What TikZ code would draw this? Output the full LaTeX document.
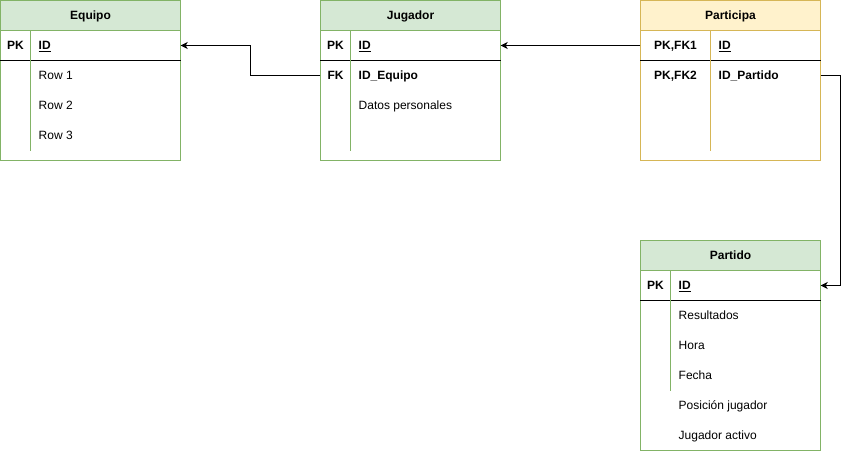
\documentclass[tikz,border=0pt]{standalone}
\usepackage{fontspec}
\setmainfont{Liberation Sans}
\usetikzlibrary{arrows.meta}
\definecolor{greenfill}{HTML}{D5E8D4}
\definecolor{greenline}{HTML}{82B366}
\definecolor{yellowfill}{HTML}{FFF2CC}
\definecolor{yellowline}{HTML}{D6B656}

\tikzset{
  greenbox/.style={draw=greenline, line width=1pt, minimum width=180pt, inner sep=0pt},
  yellowbox/.style={draw=yellowline, line width=1pt, minimum width=180pt, inner sep=0pt},
  yellowhead/.style={yellowbox, fill=yellowfill, minimum height=30pt},
  rowarea/.style={minimum width=180pt, minimum height=30pt, inner sep=0pt},
  keytxt/.style={anchor=mid, inner sep=0pt, yshift=-1.5pt},
  valtxt/.style={anchor=mid west, inner sep=0pt, yshift=-1.5pt},
  keyline/.style={line width=1pt},
  fkarrow/.style={line width=1pt, -{Stealth[length=7pt,width=7pt,inset=2pt]}}
}

\begin{document}
\begin{tikzpicture}[x=1pt, y=-1pt, font=\fontsize{12}{14}\selectfont]
  \useasboundingbox (-0.5,-0.5) rectangle (848.5,450.5);

  % Equipo
  \node[greenbox, minimum height=160pt] (equipo) at (90,80) {};
  \node[greenbox, fill=greenfill, minimum height=30pt] (equipo-head) at (90,15) {};
  \node[keytxt] (equipo-title) at (90,15) {\textbf{Equipo}};
  \node[rowarea] (eq-pk) at (90,45) {};
  \node[keytxt] (eq-pk-k) at (15,45) {\textbf{PK}};
  \node[valtxt] (eq-pk-v) at (38,45) {\underline{\textbf{ID}}};
  \node[valtxt] (eq-r1) at (38,75) {Row 1};
  \node[valtxt] (eq-r2) at (38,105) {Row 2};
  \node[valtxt] (eq-r3) at (38,135) {Row 3};
  \draw[keyline] (eq-pk.south west) -- (eq-pk.south east);
  \draw[keyline, greenline] (30,30) -- (30,150);

  % Jugador
  \node[greenbox, minimum height=160pt] (jugador) at (410,80) {};
  \node[greenbox, fill=greenfill, minimum height=30pt] (jugador-head) at (410,15) {};
  \node[keytxt] (jugador-title) at (410,15) {\textbf{Jugador}};
  \node[rowarea] (jug-pk) at (410,45) {};
  \node[keytxt] (jug-pk-k) at (335,45) {\textbf{PK}};
  \node[valtxt] (jug-pk-v) at (358,45) {\underline{\textbf{ID}}};
  \node[rowarea] (jug-fk) at (410,75) {};
  \node[keytxt] (jug-fk-k) at (335,75) {\textbf{FK}};
  \node[valtxt] (jug-fk-v) at (358,75) {\textbf{ID\_Equipo}};
  \node[valtxt] (jug-r2) at (358,105) {Datos personales};
  \draw[keyline] (jug-pk.south west) -- (jug-pk.south east);
  \draw[keyline, greenline] (350,30) -- (350,150);

  % Participa
  \node[yellowbox, minimum height=160pt] (participa) at (730,80) {};
  \node[yellowhead] (participa-head) at (730,15) {};
  \node[keytxt] (participa-title) at (730,15) {\textbf{Participa}};
  \node[rowarea] (par-fk1) at (730,45) {};
  \node[keytxt] (par-fk1-k) at (675,45) {\textbf{PK,FK1}};
  \node[valtxt] (par-fk1-v) at (718,45) {\underline{\textbf{ID}}};
  \node[rowarea] (par-fk2) at (730,75) {};
  \node[keytxt] (par-fk2-k) at (675,75) {\textbf{PK,FK2}};
  \node[valtxt] (par-fk2-v) at (718,75) {\textbf{ID\_Partido}};
  \draw[keyline] (par-fk1.south west) -- (par-fk1.south east);
  \draw[keyline, yellowline] (710,30) -- (710,150);

  % Partido
  \node[greenbox, minimum height=210pt] (partido) at (730,345) {};
  \node[greenbox, fill=greenfill, minimum height=30pt] (partido-head) at (730,255) {};
  \node[keytxt] (partido-title) at (730,255) {\textbf{Partido}};
  \node[rowarea] (pto-pk) at (730,285) {};
  \node[keytxt] (pto-pk-k) at (655,285) {\textbf{PK}};
  \node[valtxt] (pto-pk-v) at (678,285) {\underline{\textbf{ID}}};
  \node[valtxt] (pto-r1) at (678,315) {Resultados};
  \node[valtxt] (pto-r2) at (678,345) {Hora};
  \node[valtxt] (pto-r3) at (678,375) {Fecha};
  \node[valtxt] (pto-r4) at (678,405) {Posición jugador};
  \node[valtxt] (pto-r5) at (678,435) {Jugador activo};
  \draw[keyline] (pto-pk.south west) -- (pto-pk.south east);
  \draw[keyline, greenline] (670,270) -- (670,390);

  % relations
  \draw[fkarrow] (jug-fk.west) -- ++(-70,0) |- (eq-pk.east);
  \draw[fkarrow] (par-fk1.west) -- (jug-pk.east);
  \draw[fkarrow] (par-fk2.east) -- ++(20,0) |- (pto-pk.east);
\end{tikzpicture}
\end{document}
